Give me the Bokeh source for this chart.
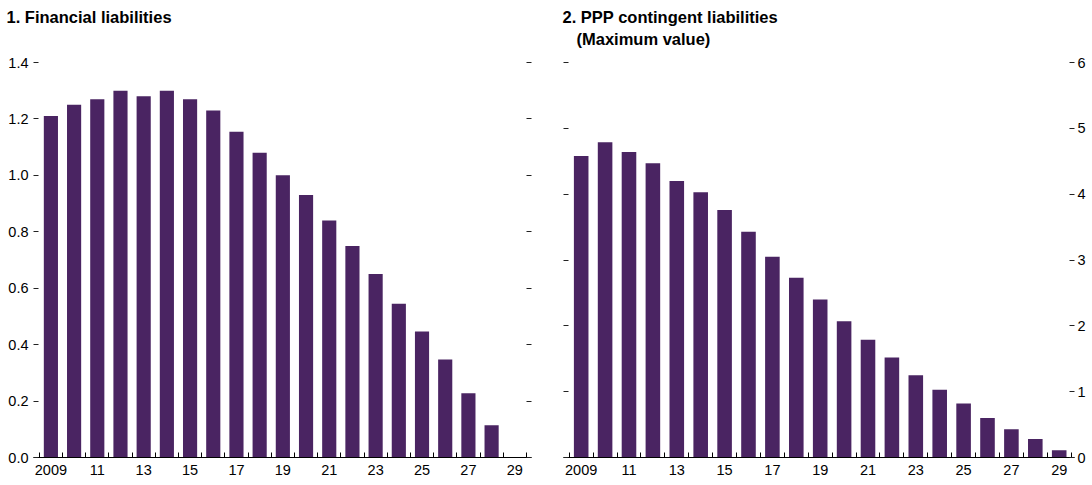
from bokeh.plotting import figure
from bokeh.layouts import row
from bokeh.models import (Range1d, LinearAxis, FixedTicker, CustomJSTickFormatter,
                          NumeralTickFormatter, Title)
from bokeh.embed import file_html
from bokeh.resources import INLINE

# ---------------- data ----------------
fin_years = list(range(2009, 2029))
fin_values = [1.21, 1.25, 1.27, 1.30, 1.28, 1.30, 1.27, 1.23, 1.155, 1.08,
              1.00, 0.93, 0.84, 0.75, 0.65, 0.545, 0.447, 0.347, 0.228, 0.114]

ppp_years = list(range(2009, 2030))
ppp_values = [4.58, 4.79, 4.64, 4.47, 4.20, 4.03, 3.76, 3.43, 3.05, 2.73,
              2.40, 2.07, 1.79, 1.52, 1.25, 1.03, 0.82, 0.60, 0.43, 0.28, 0.11]

x_label_years = [2009, 2011, 2013, 2015, 2017, 2019, 2021, 2023, 2025, 2027, 2029]
x_label_texts = ["2009", "11", "13", "15", "17", "19", "21", "23", "25", "27", "29"]

fin_ticks = [0.0, 0.2, 0.4, 0.6, 0.8, 1.0, 1.2, 1.4]
ppp_ticks = [0, 1, 2, 3, 4, 5, 6]

title1 = "1. Financial liabilities"
title2a = "2. PPP contingent liabilities"
title2b = "(Maximum value)"

# ---------------- style ----------------
BAR = "#4a2462"
TICK_FONT = "Liberation Sans"
TITLE_FONT = "Liberation Sans"
TICK_SIZE = "14.5px"
TITLE_SIZE = "16.5px"
HEIGHT = 484
BORDER_TOP = 61
BORDER_BOTTOM = 27

boundaries = [y - 0.5 for y in ppp_years] + [ppp_years[-1] + 0.5]
label_map = dict(zip(x_label_years, x_label_texts))


def x_axis():
    return LinearAxis(
        ticker=FixedTicker(ticks=x_label_years, minor_ticks=boundaries),
        major_label_overrides=label_map,
        major_tick_in=0, major_tick_out=0,
        minor_tick_in=5, minor_tick_out=0,
        minor_tick_line_color="black", minor_tick_line_width=1,
        axis_line_color="black", axis_line_width=1.2,
        major_label_standoff=7,
        major_label_text_font=TICK_FONT,
        major_label_text_font_size=TICK_SIZE,
        major_label_text_color="black",
    )


def y_axis(ticks, labelled, fmt=None, standoff=5):
    ax = LinearAxis(
        ticker=FixedTicker(ticks=ticks),
        axis_line_color=None,
        major_tick_in=5, major_tick_out=0,
        major_tick_line_color="#222222",
        minor_tick_line_color=None,
        major_label_standoff=standoff,
        major_label_text_font=TICK_FONT,
        major_label_text_font_size=TICK_SIZE,
        major_label_text_color="black",
    )
    if not labelled:
        ax.formatter = CustomJSTickFormatter(code="return ''")
        ax.major_label_standoff = 0
    elif fmt is not None:
        ax.formatter = fmt
    return ax


def title_line(text, offset):
    return Title(text=text, align="left", offset=offset, standoff=2.0,
                 text_font=TITLE_FONT, text_font_size=TITLE_SIZE,
                 text_font_style="bold", text_color="black")


def spacer(h):
    # empty header band of height h (px)
    return Title(text=" ", text_font_size="1px", standoff=max(h - 3.1, 0))


def base_fig(width, x_start, x_end, y_end, mb_left, mb_right):
    p = figure(width=width, height=HEIGHT,
               x_range=Range1d(x_start, x_end), y_range=Range1d(0, y_end),
               x_axis_type=None, y_axis_type=None,
               output_backend="svg", toolbar_location=None,
               min_border_left=mb_left, min_border_right=mb_right,
               min_border_top=BORDER_TOP, min_border_bottom=BORDER_BOTTOM,
               outline_line_color=None, background_fill_color="white",
               border_fill_color="white")
    return p


# ---------------- left panel ----------------
p1 = base_fig(547, 2008.25, 2029.72, 1.4, 33, 16)
p1.vbar(x=fin_years, top=fin_values, width=0.61, color=BAR, line_color=None)
p1.add_layout(x_axis(), "below")
p1.add_layout(y_axis(fin_ticks, True, NumeralTickFormatter(format="0.0")), "left")
p1.add_layout(y_axis(fin_ticks, False), "right")
p1.add_layout(spacer(35.5), "above")
p1.add_layout(title_line(title1, -27), "above")
p1.add_layout(spacer(3.5), "above")

# ---------------- right panel ----------------
p2 = base_fig(542, 2008.26, 2029.64, 6, 16, 15)
p2.vbar(x=ppp_years, top=ppp_values, width=0.61, color=BAR, line_color=None)
p2.add_layout(x_axis(), "below")
p2.add_layout(y_axis(ppp_ticks, False), "left")
p2.add_layout(y_axis(ppp_ticks, True, standoff=3), "right")
p2.add_layout(spacer(13.5), "above")
p2.add_layout(title_line(title2b, 13), "above")
p2.add_layout(title_line(title2a, -1), "above")
p2.add_layout(spacer(3.5), "above")

layout = row(p1, p2)
open("out.html", "w").write(file_html(layout, INLINE))
